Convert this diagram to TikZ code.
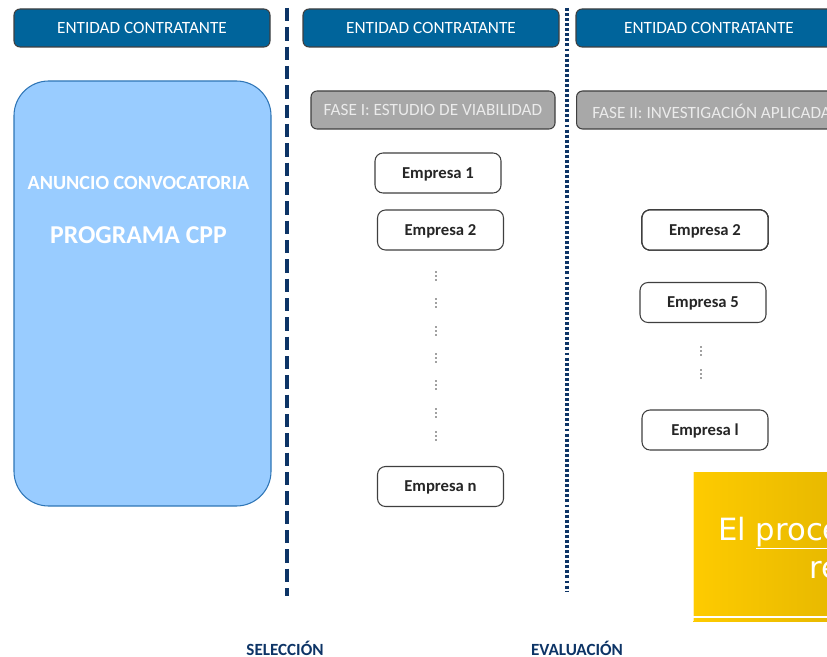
\documentclass[tikz,border=0pt]{standalone}
\usepackage{fontspec}
\setmainfont{Carlito}
\newfontfamily\amarillofont{DejaVu Sans}
\usetikzlibrary{positioning}
\definecolor{cabecera}{HTML}{00649B}
\definecolor{borde}{HTML}{3F3F3F}
\definecolor{celeste}{HTML}{99CCFF}
\definecolor{celesteborde}{HTML}{2E75B6}
\definecolor{fase}{HTML}{A8A8A8}
\definecolor{marino}{HTML}{0D3466}
\definecolor{oro}{HTML}{FECB00}
\definecolor{orooscuro}{HTML}{DDB000}
\tikzset{cab/.append style={draw=borde,fill=cabecera,rounded corners=4.5pt,line width=0.8pt,
  minimum width=192pt,minimum height=28.5pt,text=white,text height=0.9em,text depth=0pt,
  font=\fontsize{12.9}{14}\selectfont}}
\tikzset{fs/.append style={draw=borde,fill=fase,rounded corners=4.5pt,line width=0.8pt,
  minimum width=183pt,minimum height=28.5pt,text=white!92!black,text height=0.8em,text depth=0pt,
  font=\fontsize{12.9}{14}\selectfont}}
\tikzset{emp/.append style={draw=borde,fill=white,rounded corners=6pt,line width=0.8pt,
  minimum width=94.5pt,minimum height=30pt,text height=0.8em,text depth=0pt,
  font=\bfseries\fontsize{12.5}{14}\selectfont,text=black!85}}
\tikzset{etapa/.append style={font=\bfseries\fontsize{12.8}{14}\selectfont,text=marino}}
\newcommand{\puntos}[2]{\foreach \d in {-4,0,4} \fill[black!75] (#1,#2+\d) circle (0.9);}

\begin{document}
\begin{tikzpicture}[x=0.75pt,y=-0.75pt]
                \useasboundingbox (0,0) rectangle (827,656);
                \clip (0,0) rectangle (827,656);
                % cabeceras
                \node[cab] (c1) at (142,28) {ENTIDAD CONTRATANTE};
                \node[cab] (c2) at (431,28) {ENTIDAD CONTRATANTE};
                \node[cab,minimum width=199.5pt] (c3) at (709,28) {ENTIDAD CONTRATANTE};
                % divisiones
                \coordinate (d1a) at (287,8);
                \coordinate (d1b) at (287,596);
                \coordinate (d2a) at (567,8);
                \coordinate (d2b) at (567,591);
                \draw[marino,line width=2.4pt,dash pattern=on 10pt off 4.5pt] (d1a) -- (d1b);
                \draw[marino,line width=2.4pt,dash pattern=on 2.2pt off 1.6pt] (d2a) -- (d2b);
                % convocatoria
                \node[draw=celesteborde,fill=celeste,rounded corners=26pt,line width=0.8pt,
                  minimum width=192.75pt,minimum height=318.75pt] (conv) at (142.5,293.5) {};
                \node[text=white,font=\bfseries\fontsize{15.1}{17}\selectfont] (anuncio) at (138.5,183) {ANUNCIO CONVOCATORIA};
                \node[text=white,font=\bfseries\fontsize{19.3}{21}\selectfont] (prog) at (138.5,235) {PROGRAMA CPP};
                % fases
                \node[fs] (f1) at (433,110) {FASE I: ESTUDIO DE VIABILIDAD};
                \node[fs,minimum width=200pt,anchor=west] (f2) at (576,110) {};
                \node[text=white!92!black,font=\fontsize{12.9}{14}\selectfont,anchor=west,inner sep=0pt] (f2t) at (592,111) {FASE II: INVESTIGACIÓN APLICADA};
                % empresas fase I
                \node[emp] (e1) at (438,173) {Empresa 1};
                \node[emp] (e2) at (440.5,230) {Empresa 2};
                \node[emp] (en) at (440.5,486.5) {Empresa n};
                \foreach \y in {276,303,331,358,385,413,436}
                  \puntos{436}{\y}
                % empresas fase II
                \node[emp] (g2) at (705,230) {Empresa 2};
                \node[emp] (g5) at (703,302.5) {Empresa 5};
                \node[emp] (gl) at (705,430) {Empresa l};
                \foreach \y in {351,374}
                  \puntos{701}{\y}
                % recuadro amarillo
                \fill[left color=oro,right color=orooscuro] (693,472) rectangle (900,621);
                \draw[white!70!oro,line width=0.6pt] (693.5,472) -- (693.5,621);
                \draw[white,line width=0.9pt] (693,617) -- (900,617);
                \node[anchor=base west,inner sep=0pt,text=white,font=\amarillofont\fontsize{23}{26}\selectfont] (txa) at (718,540) {El \underline{proce\hspace{6pt}}};
                \node[anchor=base west,inner sep=0pt,text=white,font=\amarillofont\fontsize{23}{26}\selectfont] (txb) at (809,578) {re};
                % etapas
                \node[etapa] (sel) at (285,648) {SELECCIÓN};
                \node[etapa] (eva) at (577,648) {EVALUACIÓN};
\end{tikzpicture}
\end{document}
